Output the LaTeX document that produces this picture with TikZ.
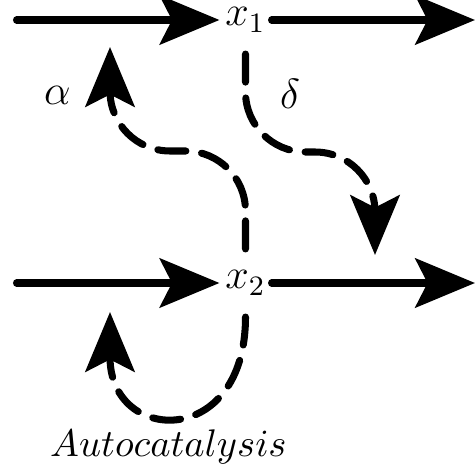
\documentclass[tikz,border=0pt]{standalone}
\usepackage{amsmath,amssymb}
\usepackage{tikz}
\usetikzlibrary{arrows.meta}

\begin{document}
\begin{tikzpicture}[
  >={Stealth[length=17pt, width=14pt, inset=3.5pt]},
  flux/.style={->, line width=2pt, line cap=round},
  infl/.style={->, line width=2pt, line cap=round, dash pattern=on 8pt off 4.5pt},
  species/.style={inner xsep=1.5pt, inner ysep=6pt, font=\large},
  lbl/.style={font=\large},
]
\useasboundingbox (0,0) rectangle (4.75,4.76);
% species
\node[species] (x1) at (2.455,4.56) {$x_1$};
\node[species] (x2) at (2.455,1.93) {$x_2$};
% free ends of the fluxes
\coordinate (in1) at (0.165,4.56);
\coordinate (in2) at (0.165,1.93);
\coordinate (out1) at (4.75,4.56);
\coordinate (out2) at (4.75,1.93);
% tips and bends of the influences
\coordinate (atip) at (1.10,4.29);
\coordinate (abend) at (1.10,3.25);
\coordinate (dtip) at (3.75,2.21);
\coordinate (dbend) at (3.75,3.24);
\coordinate (ctip) at (1.10,1.64);
\draw[flux] (in1) -- (x1);
\draw[flux] (x1) -- (out1);
\draw[flux] (in2) -- (x2);
\draw[flux] (x2) -- (out2);
\draw[infl, rounded corners=0.6cm] (x2.north) |- (abend) -- (atip);
\draw[infl, rounded corners=0.6cm] (x1.south) |- (dbend) -- (dtip);
\draw[infl] (x2.south) to[out=-90, in=-90, looseness=2.5] (ctip);
\node[lbl] (alpha) at (0.575,3.81) {$\alpha$};
\node[lbl] (delta) at (2.90,3.825) {$\delta$};
\node[anchor=base, font=\fontsize{10.6}{13}\selectfont] (auto) at (1.685,0.19) {$Autocatalysis$};
\end{tikzpicture}
\end{document}
